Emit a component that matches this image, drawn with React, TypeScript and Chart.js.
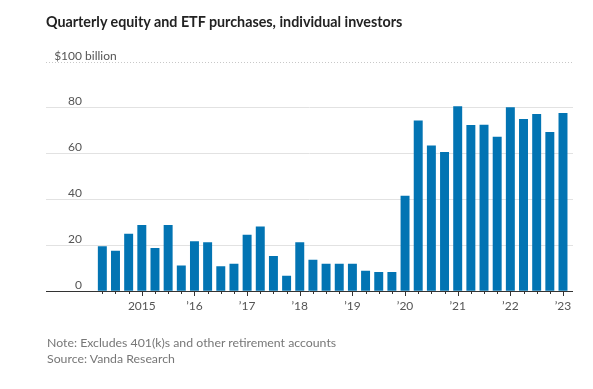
import React, { useEffect, useRef } from "react";
import { Chart, registerables } from "chart.js";

Chart.register(...registerables);

const quarters = [
  "2014 Q2", "2014 Q3", "2014 Q4",
  "2015 Q1", "2015 Q2", "2015 Q3", "2015 Q4",
  "2016 Q1", "2016 Q2", "2016 Q3", "2016 Q4",
  "2017 Q1", "2017 Q2", "2017 Q3", "2017 Q4",
  "2018 Q1", "2018 Q2", "2018 Q3", "2018 Q4",
  "2019 Q1", "2019 Q2", "2019 Q3", "2019 Q4",
  "2020 Q1", "2020 Q2", "2020 Q3", "2020 Q4",
  "2021 Q1", "2021 Q2", "2021 Q3", "2021 Q4",
  "2022 Q1", "2022 Q2", "2022 Q3", "2022 Q4",
  "2023 Q1",
];

const purchases = [
  19.2, 17.3, 24.7,
  28.5, 18.5, 28.5, 10.9,
  21.4, 21.0, 10.5, 11.6,
  24.3, 27.9, 15.0, 6.4,
  21.0, 13.4, 11.6, 11.6,
  11.6, 8.6, 8.0, 8.0,
  41.3, 74.1, 63.2, 60.4,
  80.3, 72.1, 72.3, 67.0,
  79.9, 74.8, 76.9, 69.1,
  77.4,
];

const yTickValues = [0, 20, 40, 60, 80, 100];
const yearTickValues = [2015, 2016, 2017, 2018, 2019, 2020, 2021, 2022, 2023];
const yearTickLabels = ["2015", "\u201916", "\u201917", "\u201918", "\u201919", "\u201920", "\u201921", "\u201922", "\u201923"];

const X_MIN = 2013.18;
const X_MAX = 2023.19;

const FONT = "Lato, 'Noto Sans', sans-serif";
const BAR_COLOR = "#0274b3";

function quarterToX(q: string): number {
  const [y, qq] = q.split(" ");
  return Number(y) + (Number(qq.slice(1)) - 1) / 4;
}

const axisPlugin = {
  id: "wsjAxes",
  beforeDatasetsDraw(chart: any) {
    const { ctx, chartArea, scales } = chart;
    const y = scales.y;
    ctx.save();
    yTickValues.forEach((v) => {
      if (v === 0) return;
      const py = Math.round(y.getPixelForValue(v)) + 0.5;
      ctx.beginPath();
      ctx.strokeStyle = v === 100 ? "#c8c8c8" : "#e2e2e2";
      ctx.lineWidth = 1;
      ctx.setLineDash(v === 100 ? [1, 2] : []);
      ctx.moveTo(chartArea.left, py);
      ctx.lineTo(chartArea.right, py);
      ctx.stroke();
    });
    ctx.setLineDash([]);
    ctx.fillStyle = "#555";
    ctx.font = `12px ${FONT}`;
    ctx.textBaseline = "alphabetic";
    const labelRight = chartArea.left + 36;
    yTickValues.forEach((v) => {
      const py = y.getPixelForValue(v) - 2;
      if (v === 100) {
        ctx.textAlign = "right";
        ctx.fillText("$100", labelRight, py);
        ctx.textAlign = "left";
        ctx.fillText(" billion", labelRight, py);
      } else {
        ctx.textAlign = "right";
        ctx.fillText(String(v), labelRight, py);
      }
    });
    ctx.restore();
  },
  afterDatasetsDraw(chart: any) {
    const { ctx, chartArea, scales } = chart;
    const x = scales.x;
    const y = scales.y;
    const base = Math.round(y.getPixelForValue(0)) + 0.5;
    ctx.save();
    ctx.strokeStyle = "#333";
    ctx.lineWidth = 1;
    ctx.beginPath();
    ctx.moveTo(chartArea.left, base);
    ctx.lineTo(chartArea.right, base);
    ctx.stroke();
    quarters.forEach((q) => {
      const v = quarterToX(q);
      const px = Math.round(x.getPixelForValue(v)) + 0.5;
      const major = q.endsWith("Q1");
      ctx.beginPath();
      ctx.moveTo(px, base);
      ctx.lineTo(px, base + (major ? 4.5 : 2.5));
      ctx.stroke();
    });
    ctx.fillStyle = "#555";
    ctx.font = `12px ${FONT}`;
    ctx.textAlign = "center";
    ctx.textBaseline = "middle";
    yearTickValues.forEach((v, i) => {
      ctx.fillText(yearTickLabels[i], x.getPixelForValue(v), base + 15);
    });
    ctx.restore();
  },
};

export default function App() {
  const canvasRef = useRef<HTMLCanvasElement | null>(null);

  useEffect(() => {
    const canvas = canvasRef.current;
    if (!canvas) return;
    const chart = new Chart(canvas, {
      type: "bar",
      data: {
        datasets: [
          {
            label: "Purchases",
            data: quarters.map((q, i) => ({ x: quarterToX(q), y: purchases[i] })),
            backgroundColor: BAR_COLOR,
            borderWidth: 0,
            barThickness: 8.3,
          },
        ],
      },
      options: {
        animation: false,
        responsive: false,
        devicePixelRatio: 1,
        layout: { padding: { left: 46, right: 20, top: 61.5, bottom: 98.3 } },
        plugins: { legend: { display: false }, tooltip: { enabled: false } },
        scales: {
          x: { type: "linear", min: X_MIN, max: X_MAX, offset: false, display: false },
          y: { type: "linear", min: 0, max: 100, display: false },
        },
      },
      plugins: [axisPlugin],
    });
    return () => chart.destroy();
  }, []);

  return (
    <div style={{ position: "absolute", left: 0, top: 0, width: 593, height: 389, background: "#fff", fontFamily: FONT }}>
      <canvas ref={canvasRef} width={593} height={389} style={{ display: "block", width: 593, height: 389 }} />
      <div style={{ position: "absolute", left: 46, top: 13, fontSize: 14.3, fontWeight: 700, color: "#222", whiteSpace: "nowrap", lineHeight: "18px" }}>
        Quarterly equity and ETF purchases, individual investors
      </div>
      <div style={{ position: "absolute", left: 47, top: 335, fontSize: 12.3, color: "#777", lineHeight: "16px", whiteSpace: "nowrap" }}>
        <div>Note: Excludes 401(k)s and other retirement accounts</div>
        <div>Source: Vanda Research</div>
      </div>
    </div>
  );
}
